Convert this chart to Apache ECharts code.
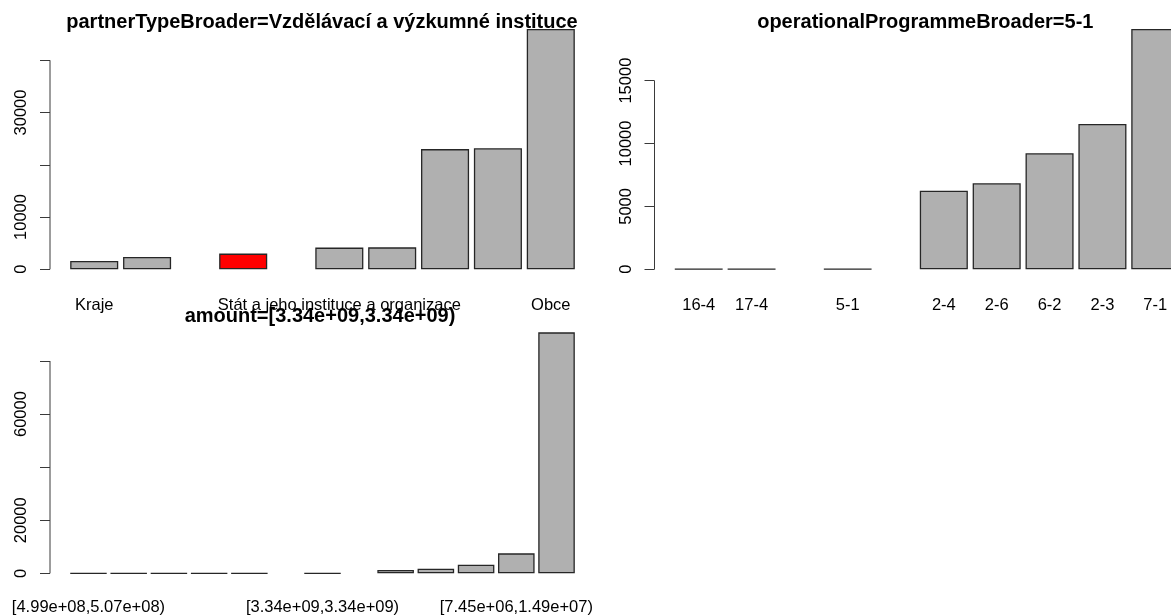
<!DOCTYPE html>
<html>
<head>
<meta charset="utf-8">
<title>Bar counts by partner type, programme and amount</title>
<script src="https://cdn.jsdelivr.net/npm/echarts@6/dist/echarts.min.js"></script>
<style>
  html, body { margin: 0; padding: 0; background: #ffffff; }
  #chart { width: 1171px; height: 616px; }
</style>
</head>
<body>
<div id="chart"></div>
<script>
// ---- data ---------------------------------------------------------------
// Panel 1: counts per partner type ('' = name not known / not printed)
const partnerTypes = ['Kraje', '', 'Vzdělávací a výzkumné instituce', 'Stát a jeho instituce a organizace', '', '', '', 'Obce'];
const partnerCounts = [1600, 2350, 3000, 4150, 4200, 23000, 23150, 46000];
const partnerShown = ['Kraje', 'Stát a jeho instituce a organizace', 'Obce'];
const partnerSelected = 'Vzdělávací a výzkumné instituce';
const partnerTicks = [0, 10000, 20000, 30000, 40000];
const partnerTickLabels = [0, 10000, 30000];

// Panel 2: counts per operational programme
const programmes = ['16-4', '17-4', '5-1', '2-4', '2-6', '6-2', '2-3', '7-1'];
const programmeCounts = [15, 12, 25, 6250, 6840, 9220, 11560, 19110];
const programmeShown = ['16-4', '17-4', '5-1', '2-4', '2-6', '6-2', '2-3', '7-1'];
const programmeSelected = '5-1';
const programmeTicks = [0, 5000, 10000, 15000];
const programmeTickLabels = [0, 5000, 10000, 15000];

// Panel 3: counts per amount interval
const amountBins = ['[4.99e+08,5.07e+08)', '', '', '', '', '[3.34e+09,3.34e+09)', '', '', '', '[7.45e+06,1.49e+07)', ''];
const amountCounts = [40, 40, 40, 40, 40, 40, 1260, 1760, 3270, 7540, 90800];
const amountShown = ['[4.99e+08,5.07e+08)', '[3.34e+09,3.34e+09)', '[7.45e+06,1.49e+07)'];
const amountSelected = '[3.34e+09,3.34e+09)';
const amountTicks = [0, 20000, 40000, 60000, 80000];
const amountTickLabels = [0, 20000, 60000];

// ---- layout -------------------------------------------------------------
const FONT = '"Liberation Sans", Arial, Helvetica, sans-serif';
const BAR_FILL = '#b0b0b0';
const BAR_SELECTED = '#ff0000';
const BAR_EDGE = '#262626';
const AXIS_COL = '#3a3a3a';

const panels = [
  {
    title: 'partnerTypeBroader=' + partnerSelected,
    names: partnerTypes, values: partnerCounts, shown: partnerShown, selected: partnerSelected,
    ticks: partnerTicks, tickLabels: partnerTickLabels,
    gaps: [0.1, 1, 1, 0.1, 0.1, 0.1, 0.1],
    grid: { left: 50, top: 19.3, width: 545, height: 259.6 },
    labelMargin: 18,
    titleAt: [322, 22]
  },
  {
    title: 'operationalProgrammeBroader=' + programmeSelected,
    names: programmes, values: programmeCounts, shown: programmeShown, selected: programmeSelected,
    ticks: programmeTicks, tickLabels: programmeTickLabels,
    gaps: [0.1, 1, 1, 0.1, 0.1, 0.1, 0.1],
    grid: { left: 654.5, top: 19.3, width: 545, height: 259.6 },
    labelMargin: 18,
    titleAt: [925.3, 22]
  },
  {
    title: 'amount=' + amountSelected,
    names: amountBins, values: amountCounts, shown: amountShown, selected: amountSelected,
    ticks: amountTicks, tickLabels: amountTickLabels,
    gaps: [0.1, 0.1, 0.1, 0.1, 1, 1, 0.1, 0.1, 0.1, 0.1],
    grid: { left: 50, top: 322.7, width: 545, height: 260.3 },
    labelMargin: 16,
    titleAt: [320, 316]
  }
];

// bar centres in bar-width units, spaced as in a base-graphics barplot
function barCentres(gaps) {
  const c = [0.5];
  gaps.forEach(g => c.push(c[c.length - 1] + 1 + g));
  return c;
}

const grids = [], xAxes = [], yAxes = [], series = [], graphics = [];

panels.forEach((p, i) => {
  const centres = barCentres(p.gaps);
  const span = centres[centres.length - 1] + 0.5;
  const xMin = -0.04 * span, xMax = span * 1.04;
  const vMax = Math.max(...p.values);
  const yMin = -0.04 * vMax, yMax = vMax * 1.04;
  const unitPx = p.grid.width / (xMax - xMin);

  const nameAt = {};
  centres.forEach((c, k) => { nameAt[c.toFixed(3)] = p.names[k]; });
  const labelled = centres.filter((c, k) => p.shown.indexOf(p.names[k]) >= 0);

  grids.push(Object.assign({ containLabel: false, outerBoundsMode: 'none' }, p.grid));

  xAxes.push({
    gridIndex: i, type: 'value', min: xMin, max: xMax,
    axisLine: { show: false, onZero: false }, axisTick: { show: false }, splitLine: { show: false },
    axisLabel: {
      customValues: labelled,
      formatter: v => nameAt[Number(v).toFixed(3)] || '',
      fontFamily: FONT, fontSize: 16.5, color: '#000', margin: p.labelMargin,
      showMinLabel: true, showMaxLabel: true
    }
  });

  yAxes.push({
    gridIndex: i, type: 'value', min: yMin, max: yMax,
    axisLine: { show: false, onZero: false }, splitLine: { show: false },
    axisTick: { show: true, inside: false, length: 10, customValues: p.ticks, lineStyle: { color: AXIS_COL, width: 1 } },
    axisLabel: {
      customValues: p.tickLabels, rotate: 90,
      formatter: v => String(Math.round(v)),
      fontFamily: FONT, fontSize: 16.5, color: '#000', margin: 20,
      showMinLabel: true, showMaxLabel: true
    }
  });

  series.push({
    type: 'bar', xAxisIndex: i, yAxisIndex: i,
    barWidth: unitPx,
    data: p.values.map((v, k) => ({
      value: [centres[k], v],
      name: p.names[k],
      itemStyle: { color: p.names[k] === p.selected ? BAR_SELECTED : BAR_FILL }
    })),
    itemStyle: { borderColor: BAR_EDGE, borderWidth: 1.3 },
    emphasis: { disabled: true },
    animation: false
  });

  // y-axis spine running from the first to the last tick
  series.push({
    type: 'custom', xAxisIndex: i, yAxisIndex: i, silent: true, clip: false,
    data: [[xMin, p.ticks[0], p.ticks[p.ticks.length - 1]]],
    renderItem: (params, api) => {
      const a = api.coord([api.value(0), api.value(1)]);
      const b = api.coord([api.value(0), api.value(2)]);
      return {
        type: 'line',
        shape: { x1: a[0], y1: a[1], x2: b[0], y2: b[1] },
        style: { stroke: AXIS_COL, lineWidth: 1 }
      };
    },
    animation: false
  });

  graphics.push({
    type: 'text', x: p.titleAt[0], y: p.titleAt[1], z: 100,
    style: {
      text: p.title, fill: '#000',
      font: 'bold 20px ' + FONT,
      textAlign: 'center', textVerticalAlign: 'middle'
    }
  });
});

const chart = echarts.init(document.getElementById('chart'), null, { renderer: 'canvas' });
chart.setOption({
  animation: false,
  backgroundColor: '#ffffff',
  grid: grids,
  xAxis: xAxes,
  yAxis: yAxes,
  series: series,
  graphic: graphics
});
</script>
</body>
</html>
